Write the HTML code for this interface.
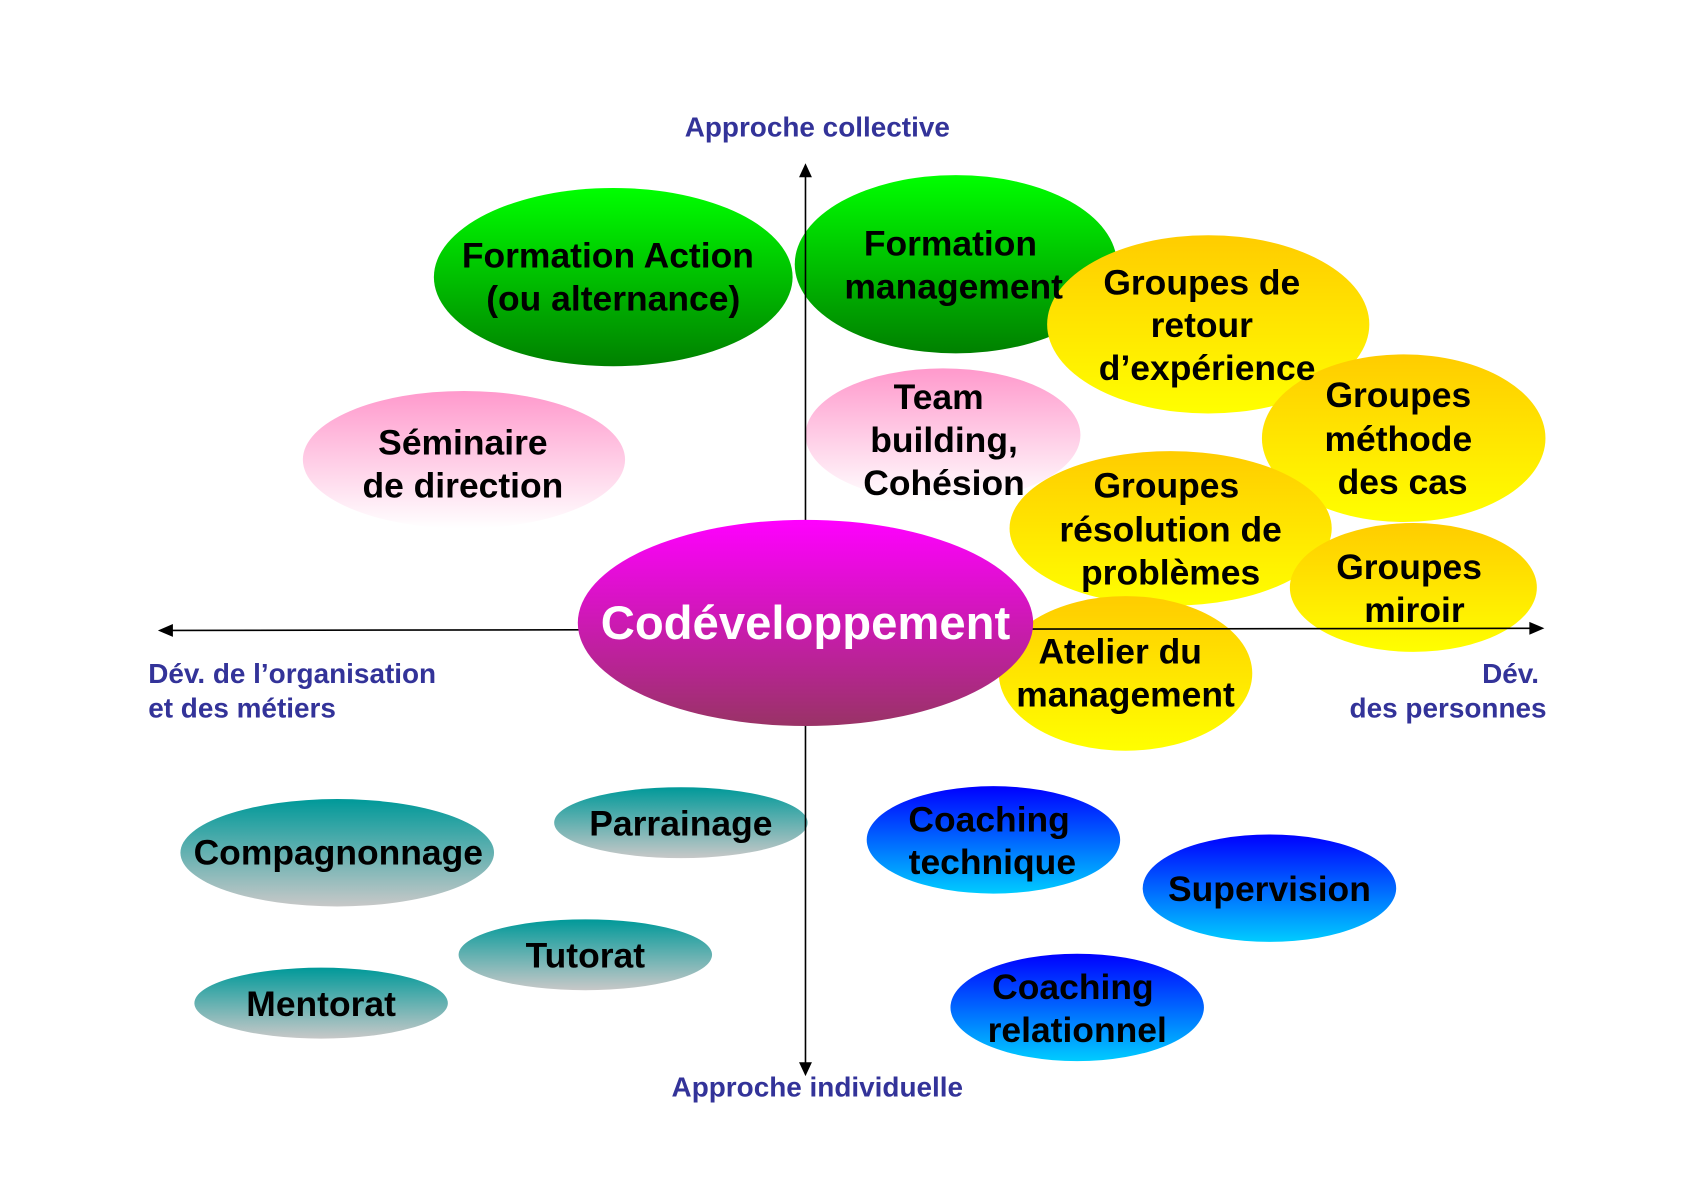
<!DOCTYPE html>
<html><head><meta charset="utf-8"><style>html,body{margin:0;padding:0;background:#fff}svg{display:block}</style></head>
<body>
<svg width="1684" height="1190" viewBox="0 0 1568 1108" preserveAspectRatio="none" xmlns="http://www.w3.org/2000/svg" font-family="Liberation Sans, Arial, sans-serif" font-weight="bold">
<defs>
<linearGradient id="g" x1="0" y1="0" x2="0" y2="1"><stop offset="0" stop-color="#00ff00"/><stop offset="1" stop-color="#008000"/></linearGradient>
<linearGradient id="y" x1="0" y1="0" x2="0" y2="1"><stop offset="0" stop-color="#ffcc00"/><stop offset="1" stop-color="#ffff00"/></linearGradient>
<linearGradient id="p" x1="0" y1="0" x2="0" y2="1"><stop offset="0" stop-color="#ff99cc"/><stop offset="1" stop-color="#ffffff"/></linearGradient>
<linearGradient id="m" x1="0" y1="0" x2="0" y2="1"><stop offset="0" stop-color="#ff00ff"/><stop offset="1" stop-color="#993366"/></linearGradient>
<linearGradient id="t" x1="0" y1="0" x2="0" y2="1"><stop offset="0" stop-color="#009999"/><stop offset="1" stop-color="#c8c8c8"/></linearGradient>
<linearGradient id="b" x1="0" y1="0" x2="0" y2="1"><stop offset="0" stop-color="#0000ff"/><stop offset="1" stop-color="#00ccff"/></linearGradient>
</defs>
<g font-size="26" fill="#333399">
<text x="761" y="127" text-anchor="middle">Approche collective</text>
<text x="761" y="1021" text-anchor="middle">Approche individuelle</text>
<text x="138" y="636">Dév. de l’organisation</text>
<text x="138" y="668">et des métiers</text>
<text x="1433" y="636" text-anchor="end">Dév.</text>
<text x="1440" y="668" text-anchor="end">des personnes</text>
</g>
<ellipse cx="571" cy="258" rx="167" ry="83" fill="url(#g)"/>
<ellipse cx="890" cy="246" rx="150" ry="83" fill="url(#g)"/>
<ellipse cx="432" cy="428" rx="150" ry="64" fill="url(#p)"/>
<ellipse cx="878" cy="405" rx="128" ry="62" fill="url(#p)"/>
<ellipse cx="1125" cy="302" rx="150" ry="83" fill="url(#y)"/>
<ellipse cx="1307" cy="408" rx="132" ry="78" fill="url(#y)"/>
<ellipse cx="1090" cy="492" rx="150" ry="72" fill="url(#y)"/>
<ellipse cx="1316" cy="547" rx="115" ry="60" fill="url(#y)"/>
<ellipse cx="1048" cy="627" rx="118" ry="72" fill="url(#y)"/>
<ellipse cx="314" cy="794" rx="146" ry="50" fill="url(#t)"/>
<ellipse cx="634" cy="766" rx="118" ry="33" fill="url(#t)"/>
<ellipse cx="545" cy="889" rx="118" ry="33" fill="url(#t)"/>
<ellipse cx="299" cy="934" rx="118" ry="33" fill="url(#t)"/>
<ellipse cx="925" cy="782" rx="118" ry="50" fill="url(#b)"/>
<ellipse cx="1182" cy="827" rx="118" ry="50" fill="url(#b)"/>
<ellipse cx="1003" cy="938" rx="118" ry="50" fill="url(#b)"/>
<g stroke="#000" stroke-width="1.5">
<line x1="750" y1="163" x2="750" y2="992"/>
<line x1="158" y1="587" x2="1428" y2="585"/>
</g>
<polygon points="750,152 744,165 756,165" fill="#000"/>
<polygon points="750,1002 744,989 756,989" fill="#000"/>
<polygon points="147,587 161,581 161,593" fill="#000"/>
<polygon points="1438,585 1424,579 1424,591" fill="#000"/>
<ellipse cx="750" cy="580" rx="212" ry="96" fill="url(#m)"/>
<g font-size="33" fill="#000" text-anchor="middle">
<text x="566" y="249">Formation Action</text><text x="571" y="289">(ou alternance)</text>
<text x="885" y="238">Formation</text><text x="888" y="278">management</text>
<text x="1119" y="274">Groupes de</text><text x="1119" y="314">retour</text><text x="1124" y="354">d’expérience</text>
<text x="1302" y="379">Groupes</text><text x="1302" y="420">méthode</text><text x="1306" y="460">des cas</text>
<text x="874" y="381">Team</text><text x="879" y="421">building,</text><text x="879" y="461">Cohésion</text>
<text x="431" y="423">Séminaire</text><text x="431" y="463">de direction</text>
<text x="1086" y="463">Groupes</text><text x="1090" y="504">résolution de</text><text x="1090" y="544">problèmes</text>
<text x="1312" y="539">Groupes</text><text x="1317" y="579">miroir</text>
<text x="1043" y="618">Atelier du</text><text x="1048" y="658">management</text>
<text x="315" y="805">Compagnonnage</text>
<text x="634" y="778">Parrainage</text>
<text x="545" y="901">Tutorat</text>
<text x="299" y="946">Mentorat</text>
<text x="921" y="774">Coaching</text><text x="924" y="814">technique</text>
<text x="1182" y="839">Supervision</text>
<text x="999" y="930">Coaching</text><text x="1003" y="970">relationnel</text>
</g>
<text x="750" y="595" text-anchor="middle" font-size="44" fill="#fff">Codéveloppement</text>
</svg>
</body></html>
